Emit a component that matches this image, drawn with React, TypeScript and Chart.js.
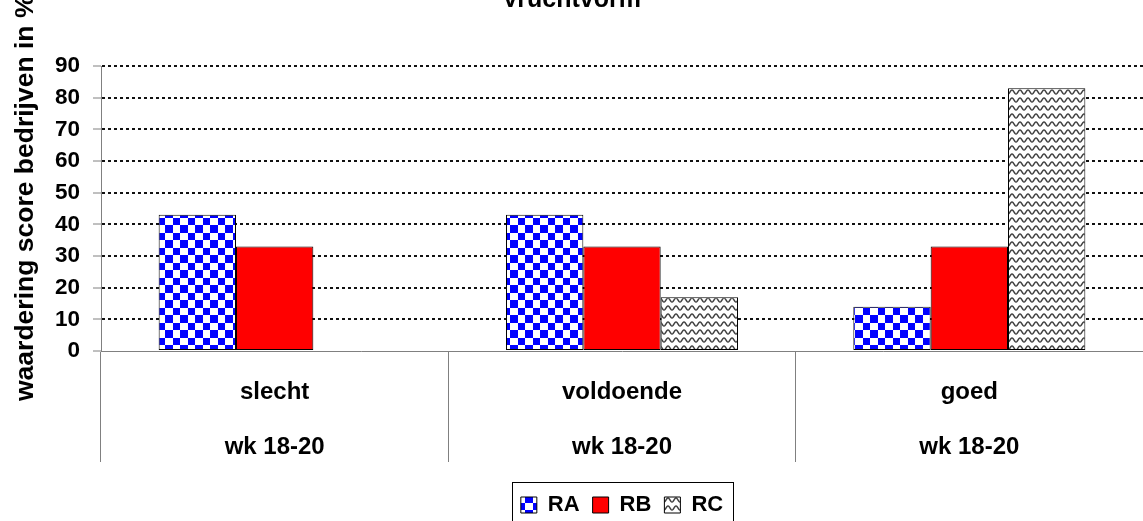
import React, { useEffect, useRef } from 'react';
import { Chart, registerables } from 'chart.js';

Chart.register(...registerables);

const categories: string[][] = [
  ['slecht', 'wk 18-20'],
  ['voldoende', 'wk 18-20'],
  ['goed', 'wk 18-20'],
];
const seriesNames = ['RA', 'RB', 'RC'];
const raValues = [43, 43, 14];
const rbValues = [33, 33, 33];
const rcValues = [0, 17, 83];
const yMin = 0;
const yMax = 90;
const yStep = 10;
const chartTitle = 'Vruchtvorm';
const yAxisTitle = 'waardering score bedrijven in %';

const FONT = "'Liberation Sans', Arial, Helvetica, sans-serif";

function checkerPattern(ctx: CanvasRenderingContext2D): CanvasPattern | string {
  const c = document.createElement('canvas');
  c.width = 15;
  c.height = 15;
  const g = c.getContext('2d')!;
  g.fillStyle = '#ffffff';
  g.fillRect(0, 0, 15, 15);
  g.fillStyle = '#0000ff';
  g.fillRect(0, 0, 8, 8);
  g.fillRect(8, 8, 7, 7);
  return ctx.createPattern(c, 'repeat') || '#0000ff';
}

function wavePattern(ctx: CanvasRenderingContext2D): CanvasPattern | string {
  const c = document.createElement('canvas');
  c.width = 8;
  c.height = 8;
  const g = c.getContext('2d')!;
  g.fillStyle = '#ffffff';
  g.fillRect(0, 0, 8, 8);
  g.strokeStyle = '#404040';
  g.lineWidth = 1.4;
  for (const off of [-8, 0, 8]) {
    g.beginPath();
    for (let x = -2; x <= 10; x += 0.5) {
      const y = 4 + off + 2 * Math.cos((2 * Math.PI * x) / 8);
      if (x === -2) g.moveTo(x, y);
      else g.lineTo(x, y);
    }
    g.stroke();
  }
  return ctx.createPattern(c, 'repeat') || '#cccccc';
}

const textPlugin = {
  id: 'extraTexts',
  afterDraw(chart: any) {
    const ctx: CanvasRenderingContext2D = chart.ctx;
    ctx.save();
    ctx.fillStyle = '#000';
    ctx.font = `bold 25px ${FONT}`;
    ctx.textAlign = 'center';
    ctx.textBaseline = 'alphabetic';
    ctx.fillText(chartTitle, chart.width / 2, 7);

    ctx.translate(33, 401);
    ctx.rotate(-Math.PI / 2);
    ctx.font = `bold 26.5px ${FONT}`;
    ctx.textAlign = 'left';
    ctx.fillText(yAxisTitle, 0, 0);
    ctx.restore();

    const lg = chart.legend;
    const hb = lg && lg.legendHitBoxes;
    if (hb && hb.length) {
      const first = hb[0];
      const last = hb[hb.length - 1];
      const left = Math.round(first.left - 9) + 0.5;
      const right = Math.round(last.left + last.width + 10) + 0.5;
      const top = Math.round(first.top - 12) + 0.5;
      const bottom = Math.round(first.top + first.height + 12) + 0.5;
      ctx.save();
      ctx.strokeStyle = '#000';
      ctx.lineWidth = 1;
      ctx.strokeRect(left, top, right - left, bottom - top);
      ctx.restore();
    }
  },
};

export default function App() {
  const canvasRef = useRef<HTMLCanvasElement | null>(null);

  useEffect(() => {
    document.body.style.margin = '0';
    const canvas = canvasRef.current;
    if (!canvas) return;
    const ctx = canvas.getContext('2d')!;
    const patterns = [checkerPattern(ctx), '#ff0000', wavePattern(ctx)];
    const values = [raValues, rbValues, rcValues];

    const chart = new Chart(canvas, {
      type: 'bar',
      data: {
        labels: categories,
        datasets: seriesNames.map((name, i) => ({
          label: name,
          data: values[i],
          backgroundColor: patterns[i] as any,
          borderColor: '#000000',
          borderWidth: 1,
          borderSkipped: false,
          categoryPercentage: 0.668,
          barPercentage: 1.0,
        })),
      },
      options: {
        responsive: false,
        animation: false,
        events: [],
        layout: { padding: { top: 66, left: 0, right: 0, bottom: -5 } },
        plugins: {
          title: { display: false },
          tooltip: { enabled: false },
          legend: {
            display: true,
            position: 'bottom',
            fullSize: false,
            labels: {
              boxWidth: 16,
              boxHeight: 16,
              padding: 13,
              color: '#000',
              font: { family: FONT, size: 22, weight: 'bold' },
            },
          },
        },
        scales: {
          x: {
            type: 'category',
            grid: {
              display: true,
              offset: true,
              drawOnChartArea: false,
              drawTicks: true,
              tickLength: 111,
              color: '#808080',
              tickColor: '#808080',
              lineWidth: 1,
            },
            border: { display: true, color: '#808080', width: 1 },
            ticks: {
              autoSkip: false,
              maxRotation: 0,
              minRotation: 0,
              padding: -97.5,
              color: '#000',
              font: { family: FONT, size: 24, weight: 'bold', lineHeight: 2.29 },
            },
            afterFit: (s: any) => {
              s.height = 130;
            },
          },
          y: {
            min: yMin,
            max: yMax,
            ticks: {
              stepSize: yStep,
              padding: 13,
              color: '#000',
              font: { family: FONT, size: 22.5, weight: 'bold' },
            },
            grid: {
              color: (c: any) => (c.tick && c.tick.value === 0 ? 'rgba(0,0,0,0)' : '#111111'),
              lineWidth: 2,
              drawTicks: true,
              tickLength: 8,
              tickColor: '#808080',
              tickWidth: 1,
              tickBorderDash: [],
            } as any,
            border: { display: true, color: '#808080', width: 1, dash: [3, 3] },
            afterFit: (s: any) => {
              s.width = 101;
            },
          },
        },
      } as any,
      plugins: [textPlugin],
    });

    return () => {
      chart.destroy();
    };
  }, []);

  return (
    <div style={{ width: 1143, height: 521, overflow: 'hidden' }}>
      <canvas ref={canvasRef} width={1143} height={521} style={{ display: 'block' }} />
    </div>
  );
}
